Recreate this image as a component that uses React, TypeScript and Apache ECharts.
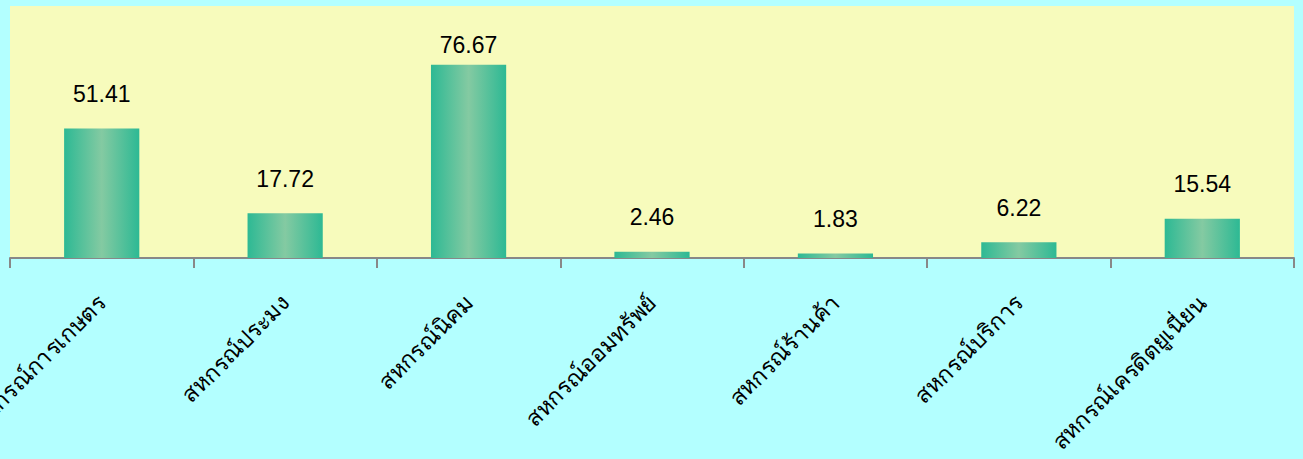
import React, { useEffect, useRef } from "react";
import * as echarts from "echarts";

const categories = [
  "สหกรณ์การเกษตร",
  "สหกรณ์ประมง",
  "สหกรณ์นิคม",
  "สหกรณ์ออมทรัพย์",
  "สหกรณ์ร้านค้า",
  "สหกรณ์บริการ",
  "สหกรณ์เครดิตยูเนี่ยน",
];
const values = [51.41, 17.72, 76.67, 2.46, 1.83, 6.22, 15.54];

export default function App() {
  const ref = useRef<HTMLDivElement>(null);
  useEffect(() => {
    document.body.style.margin = "0";
    const chart = echarts.init(ref.current!, null, { renderer: "svg" });
    const barColor = new echarts.graphic.LinearGradient(0, 0, 1, 0, [
      { offset: 0, color: "#2db994" },
      { offset: 0.5, color: "#84caa2" },
      { offset: 1, color: "#2db994" },
    ]);
    chart.setOption({
      animation: false,
      backgroundColor: "#b3ffff",
      grid: {
        left: 10,
        right: 9,
        top: 6,
        bottom: 201,
        show: true,
        backgroundColor: "#f7fbbc",
        borderWidth: 0,
        containLabel: false,
        outerBoundsMode: "none",
      },
      xAxis: {
        type: "category",
        data: categories,
        axisLine: { lineStyle: { color: "#888888", width: 2 } },
        axisTick: { show: true, length: 10, lineStyle: { color: "#888888", width: 2 } },
        axisLabel: {
          rotate: 45,
          margin: 41,
          color: "#000000",
          fontSize: 23,
          interval: 0,
          hideOverlap: false,
        },
      },
      yAxis: {
        type: "value",
        min: 0,
        max: 100,
        show: false,
        splitLine: { show: false },
      },
      series: [
        {
          type: "bar",
          barWidth: "41%",
          data: values.map((v) => ({
            value: v,
            label: { distance: v > 70 ? 8 : 23 },
          })),
          itemStyle: { color: barColor },
          label: {
            show: true,
            position: "top",
            color: "#000000",
            fontSize: 23,
            fontFamily: "Liberation Sans, Arial, sans-serif",
          },
        },
      ],
    });
    return () => chart.dispose();
  }, []);
  return <div ref={ref} style={{ width: 1303, height: 459 }} />;
}
